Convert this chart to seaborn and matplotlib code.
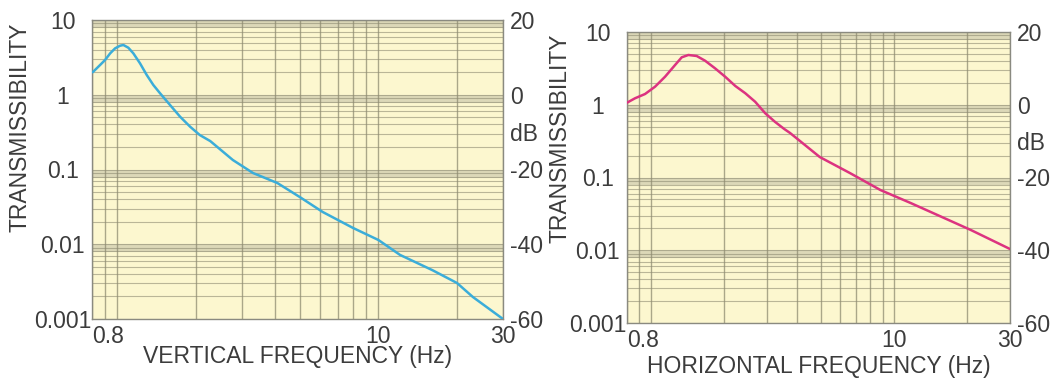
import numpy as np
import pandas as pd
import matplotlib
matplotlib.use("Agg")
import matplotlib.pyplot as plt
import seaborn as sns

# Vertical-axis transmissibility curve
v_freq = [0.805, 0.859, 0.898, 0.939, 0.981, 1.025, 1.055, 1.102, 1.152, 1.222, 1.296,
          1.374, 1.458, 1.592, 1.74, 1.90, 2.07, 2.27, 2.77, 3.31, 4.1, 5.0, 6.12, 8.0,
          10.0, 12.1, 16.1, 20.0, 23.0, 30.0]
v_trans = [2.0, 2.5, 2.92, 3.58, 4.18, 4.53, 4.63, 4.26, 3.58, 2.63, 1.84,
           1.35, 1.046, 0.729, 0.508, 0.374, 0.289, 0.24, 0.134, 0.0897, 0.066, 0.0428,
           0.027, 0.0165, 0.0114, 0.0072, 0.0045, 0.00303, 0.00197, 0.001]

# Horizontal-axis transmissibility curve
h_freq = [0.8, 0.863, 0.949, 1.043, 1.147, 1.261, 1.343, 1.43, 1.547, 1.675, 1.84,
          2.025, 2.23, 2.45, 2.69, 2.96, 3.25, 3.54, 3.74, 4.96, 6.6, 8.8, 11.7, 15.1,
          20.7, 30.0]
h_trans = [1.067, 1.227, 1.405, 1.77, 2.43, 3.52, 4.49, 4.83, 4.68, 4.03, 3.17,
           2.43, 1.81, 1.44, 1.10, 0.763, 0.58, 0.465, 0.41, 0.191, 0.115, 0.0673,
           0.0447, 0.0305, 0.019, 0.0104]

x_ticks = [0.8, 10, 30]
x_tick_labels = ["0.8", "10", "30"]
y_ticks = [0.001, 0.01, 0.1, 1, 10]
y_tick_labels = ["0.001", "0.01", "0.1", "1", "10"]
db_ticks = [-60, -40, -20, -10, 0, 20]
db_tick_labels = ["-60", "-40", "-20", "dB", "0", "20"]

x_labels = ["VERTICAL FREQUENCY (Hz)", "HORIZONTAL FREQUENCY (Hz)"]
y_label = "TRANSMISSIBILITY"

sns.set_theme(style="white")
plt.rcParams["font.family"] = ["Liberation Sans", "DejaVu Sans"]

TEXT = "#3c3c3c"
PAPER = "#fcf7cf"
GRID = "#8f8c72"
BAND = "#dcd8b8"
FS = 16.5

fig = plt.figure(figsize=(10.52, 3.81), dpi=100)
W, H = 1052, 381
boxes = [(92, 20, 503, 319), (627, 32, 1010, 323)]
colors = ["#3badd9", "#dc3380"]
series = [(v_freq, v_trans), (h_freq, h_trans)]
xlab_y = [357, 367]
ylab_pos = [(20, 127), (560, 138)]

for i, (x0, y0, x1, y1) in enumerate(boxes):
    ax = fig.add_axes([x0 / W, 1 - y1 / H, (x1 - x0) / W, (y1 - y0) / H])
    ax.set_facecolor(PAPER)
    ax.set_xscale("log")
    ax.set_yscale("log")
    ax.set_xlim(0.8, 30)
    ax.set_ylim(0.001, 10)

    # shaded band just below each decade line
    for k in range(-3, 2):
        ax.axhspan(0.78 * 10.0 ** k, 1.0 * 10.0 ** k, color=BAND, lw=0, zorder=0.5)

    ax.set_xticks(x_ticks)
    ax.set_xticklabels(x_tick_labels)
    ax.set_xticks([0.9, 1, 2, 3, 4, 5, 6, 7, 8, 9, 20], minor=True)
    ax.set_yticks(y_ticks)
    ax.set_yticklabels(y_tick_labels)
    minor_y = [m * 10.0 ** k for k in range(-3, 1) for m in range(2, 10)]
    ax.set_yticks(minor_y, minor=True)
    ax.yaxis.set_minor_formatter(matplotlib.ticker.NullFormatter())
    ax.xaxis.set_minor_formatter(matplotlib.ticker.NullFormatter())
    ax.grid(True, which="both", axis="y", color=GRID, lw=0.8, alpha=0.6, zorder=1)
    ax.grid(True, which="both", axis="x", color=GRID, lw=1.0, alpha=0.75, zorder=1)
    ax.set_axisbelow(True)

    ax.tick_params(axis="both", which="both", length=0, colors=TEXT, labelsize=FS)
    ax.tick_params(axis="y", pad=21)
    ax.tick_params(axis="x", pad=4)
    for lab in ax.get_yticklabels():
        lab.set_ha("center")
    ax.get_xticklabels()[0].set_ha("left")

    df = pd.DataFrame({"freq": series[i][0], "trans": series[i][1]})
    sns.lineplot(data=df, x="freq", y="trans", ax=ax, color=colors[i], lw=1.8,
                 estimator=None, sort=False, zorder=3)

    ax.set_xlabel(x_labels[i], fontsize=FS, color=TEXT, va="center")
    ax.xaxis.set_label_coords(0.5, (y1 - xlab_y[i]) / (y1 - y0))
    ax.set_ylabel(y_label, fontsize=FS, color=TEXT, va="center", ha="center")
    lx, ly = ylab_pos[i]
    ax.yaxis.set_label_coords((lx - x0) / (x1 - x0), (y1 - ly) / (y1 - y0))

    for s in ax.spines.values():
        s.set_color("#8a8a80")
        s.set_linewidth(1.0)

    # decibel scale on the right
    ax2 = ax.twinx()
    ax2.set_ylim(-60, 20)
    ax2.set_yticks(db_ticks)
    ax2.set_yticklabels(db_tick_labels)
    ax2.tick_params(axis="y", length=0, pad=5, colors=TEXT, labelsize=FS)
    ax2.grid(False)
    for s in ax2.spines.values():
        s.set_visible(False)

fig.savefig("out.png", dpi=100, facecolor="white")
